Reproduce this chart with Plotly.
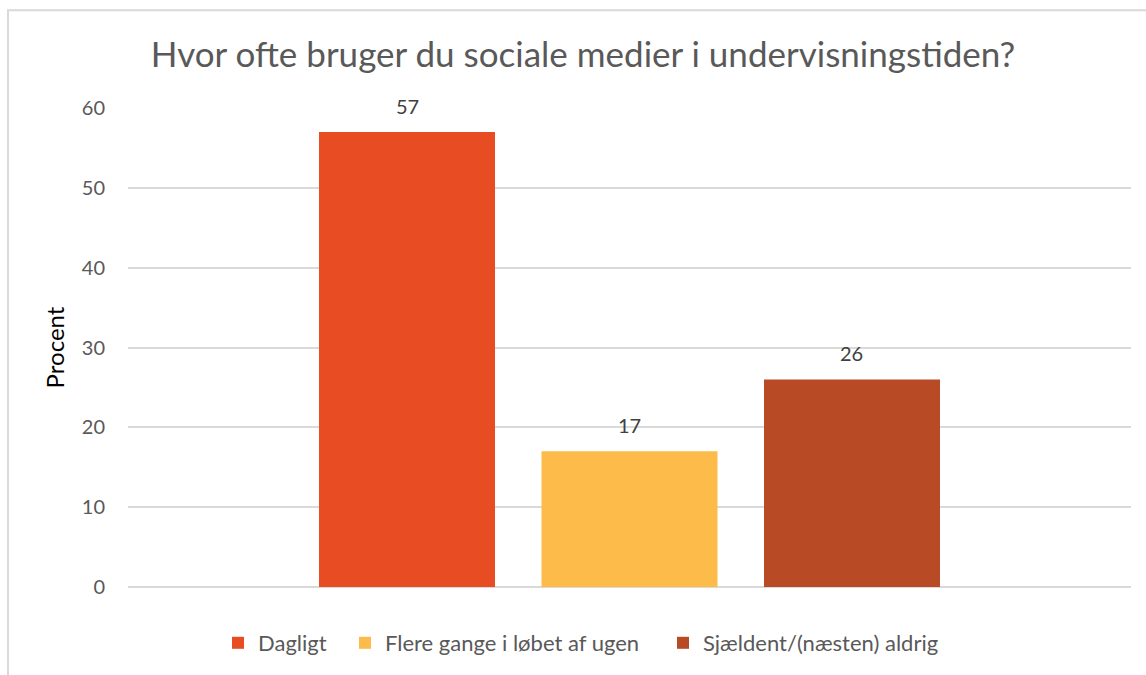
import plotly.graph_objects as go

title = "Hvor ofte bruger du sociale medier i undervisningstiden?"
series_names = ["Dagligt", "Flere gange i løbet af ugen", "Sjældent/(næsten) aldrig"]
series_values = [57, 17, 26]
colors = ["#E84C22", "#FDBB4A", "#B84A26"]
y_ticks = [0, 10, 20, 30, 40, 50, 60]

FONT = "Lato, 'Open Sans', sans-serif"

W, H = 1146, 675
ml, mr, mt, mb = 128, 15, 108, 87
pw, ph = W - ml - mr, H - mt - mb

legend_ids = ["legend", "legend2", "legend3"]
legend_square_left = [232, 359, 677]

fig = go.Figure()
for name, val, col, lid in zip(series_names, series_values, colors, legend_ids):
    fig.add_trace(go.Bar(
        x=[name], y=[val], name=name, legend=lid,
        marker=dict(color=col, line=dict(width=0)),
    ))
    fig.add_annotation(x=name, y=val, xref="x", yref="y", text=str(val), showarrow=False,
                       yanchor="bottom", yshift=12,
                       font=dict(size=20, color="#404040", family=FONT))

legend_common = dict(orientation="h", xanchor="left", yanchor="middle",
                     y=-(643 - 588) / ph, font=dict(size=22, color="#595959", family=FONT),
                     bgcolor="rgba(0,0,0,0)", borderwidth=0)
legends = {}
for lid, sq in zip(legend_ids, legend_square_left):
    legends[lid] = dict(legend_common, x=(sq - 14 - ml) / pw)

fig.update_layout(
    width=W, height=H,
    margin=dict(l=ml, r=mr, t=mt, b=mb),
    paper_bgcolor="white", plot_bgcolor="white",
    barmode="relative", bargap=0.209,
    title=dict(text=title, xref="container", x=583 / W, xanchor="center",
               yref="container", y=1 - 55 / H, yanchor="middle",
               font=dict(size=35, color="#595959", family=FONT)),
    font=dict(family=FONT),
    showlegend=True,
    xaxis=dict(type="category", range=[-1.254, 3.254], showticklabels=False, showgrid=False,
               zeroline=False, showline=False, ticks=""),
    yaxis=dict(range=[0, 60], tickvals=y_ticks, showgrid=True, gridcolor="#D9D9D9", gridwidth=1.5,
               zeroline=True, zerolinecolor="#D9D9D9", zerolinewidth=1.5, showline=False,
               tickfont=dict(size=20, color="#595959", family=FONT), ticks="outside",
               ticklen=18, tickcolor="rgba(0,0,0,0)",
               title=dict(text="Procent", font=dict(size=24, color="#000000", family=FONT), standoff=10)),
    **legends,
)

fig.add_shape(type="rect", xref="paper", yref="paper",
              x0=(8 - ml) / pw, x1=(W + 10 - ml) / pw,
              y0=-(H + 10 - mt - ph) / ph, y1=1 + (mt - 10) / ph,
              line=dict(color="#D9D9D9", width=2), fillcolor="rgba(0,0,0,0)", layer="below")

fig.write_html("out.html", config={"displayModeBar": False},
               post_script="document.body.style.margin='0';document.body.style.overflow='hidden';")
